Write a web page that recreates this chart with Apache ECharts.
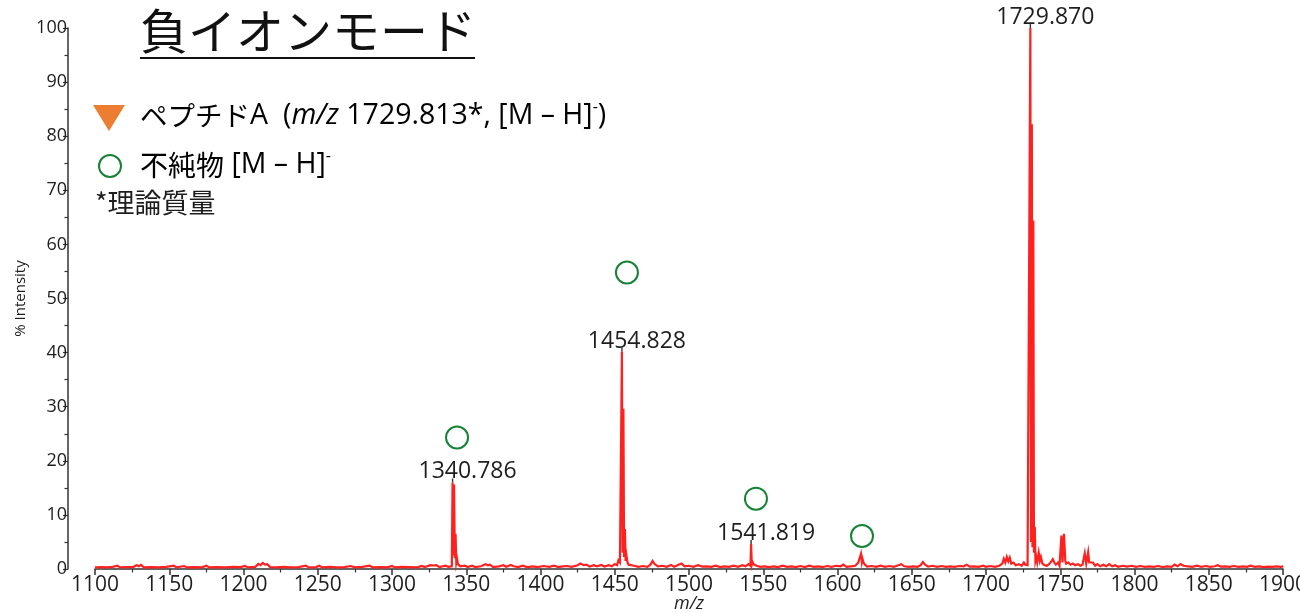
<!DOCTYPE html>
<html>
<head>
<meta charset="utf-8">
<script src="https://cdn.jsdelivr.net/npm/echarts@6/dist/echarts.min.js"></script>
<style>
  html, body { margin: 0; padding: 0; background: #ffffff; }
  #chart { width: 1300px; height: 613px; }
</style>
</head>
<body>
<div id="chart"></div>
<script>
// Negative-ion mass spectrum: [m/z, % intensity]
const spectrum = [
  [1100, 0.3], [1104, 0.35], [1108, 0.3], [1112, 0.4], [1115, 0.6], [1117, 0.3], [1122, 0.35],
  [1126, 0.4], [1128, 0.7], [1129.5, 0.5], [1131, 0.75], [1133, 0.3], [1138, 0.35], [1143, 0.3],
  [1148, 0.4], [1153, 0.6], [1155, 0.3], [1160, 0.55], [1162, 0.3], [1167, 0.35], [1172, 0.3],
  [1175, 0.6], [1177, 0.3], [1182, 0.35], [1188, 0.3], [1193, 0.4], [1198, 0.35], [1201, 0.55],
  [1203, 0.3], [1208, 0.4], [1210, 0.95], [1211.5, 0.7], [1213, 1.1], [1214.5, 0.8], [1216, 0.9],
  [1218, 0.35], [1222, 0.3], [1227, 0.4], [1232, 0.3], [1237, 0.35], [1242, 0.6], [1244, 0.3],
  [1249, 0.35], [1251, 0.6], [1253, 0.3], [1258, 0.4], [1263, 0.3], [1268, 0.35], [1272, 0.55],
  [1275, 0.3], [1280, 0.4], [1285, 0.6], [1287, 0.3], [1292, 0.35], [1297, 0.3], [1300, 0.55],
  [1302, 0.3], [1307, 0.4], [1312, 0.35], [1317, 0.3], [1320, 0.55], [1322, 0.35], [1326, 0.7],
  [1328, 0.65], [1330, 0.7], [1332, 0.35], [1336, 0.6], [1338, 0.4], [1340.3, 0.5],
  [1340.786, 16.0], [1341.3, 2.5], [1341.79, 15.6], [1342.3, 2.0], [1342.79, 6.5], [1343.3, 1.2],
  [1343.8, 1.9], [1344.4, 0.9], [1345.0, 1.2], [1346, 0.5], [1349, 0.6], [1351, 0.35], [1354, 0.6],
  [1356, 0.35], [1360, 0.5], [1363, 0.9], [1364.5, 0.7], [1366, 0.8], [1368, 0.35], [1372, 0.5],
  [1375, 0.7], [1377, 0.4], [1380, 0.75], [1382, 0.5], [1385, 0.35], [1388, 0.6], [1391, 0.35],
  [1395, 0.5], [1398, 0.35], [1402, 0.55], [1406, 0.4], [1409, 0.6], [1412, 0.35], [1415, 0.5],
  [1418, 0.55], [1421, 0.4], [1425, 0.7], [1427, 1.0], [1429, 0.7], [1431, 0.8], [1433, 0.45],
  [1436, 0.7], [1438, 0.5], [1441, 0.75], [1443, 0.45], [1446, 0.7], [1448, 0.5], [1450, 0.9],
  [1451.5, 0.7], [1452.5, 1.6], [1453.5, 1.2], [1454.3, 1.0],
  [1454.828, 40.2], [1455.3, 3.0], [1455.83, 29.6], [1456.3, 2.2], [1456.83, 7.4], [1457.3, 1.5],
  [1457.83, 2.6], [1458.5, 1.3], [1459.3, 0.8], [1460, 0.5], [1463, 0.6], [1466, 0.4], [1469, 0.55],
  [1472, 0.4], [1474, 0.8], [1475.5, 1.5], [1476.5, 1.0], [1477.5, 1.3], [1479, 0.5], [1482, 0.6],
  [1485, 0.4], [1488, 0.75], [1490, 0.4], [1493, 0.8], [1495, 1.0], [1497, 0.5], [1500, 0.6],
  [1503, 0.4], [1506, 0.7], [1509, 0.45], [1512, 0.5], [1515, 0.4], [1518, 0.6], [1521, 0.35],
  [1524, 0.5], [1527, 0.4], [1530, 0.6], [1533, 0.4], [1536, 0.7], [1538, 0.5], [1540, 0.9],
  [1541.4, 0.6], [1541.819, 4.6], [1542.3, 0.8], [1542.82, 1.3], [1543.5, 0.9], [1544.5, 1.2],
  [1545.5, 0.6], [1548, 0.4], [1551, 0.5], [1554, 0.35], [1557, 0.5], [1560, 0.35], [1563, 0.6],
  [1566, 0.4], [1569, 0.5], [1572, 0.35], [1575, 0.55], [1578, 0.35], [1581, 0.6], [1584, 0.4],
  [1587, 0.5], [1590, 0.35], [1593, 0.55], [1596, 0.4], [1599, 0.6], [1602, 0.5], [1604, 0.8],
  [1606, 0.4], [1609, 0.5], [1612, 0.6], [1614, 1.2], [1615.3, 0.9], [1615.8, 2.8], [1616.4, 1.3],
  [1616.8, 1.9], [1617.5, 1.2], [1618.5, 0.8], [1620, 0.45], [1623, 0.55], [1626, 0.4], [1629, 0.6],
  [1632, 0.4], [1635, 0.55], [1638, 0.4], [1641, 0.7], [1643, 0.9], [1645, 0.5], [1648, 0.4],
  [1651, 0.5], [1654, 0.4], [1656, 0.7], [1657.5, 1.3], [1659, 0.8], [1661, 0.45], [1664, 0.6],
  [1667, 0.4], [1670, 0.55], [1673, 0.4], [1676, 0.5], [1679, 0.4], [1682, 0.55], [1685, 0.5],
  [1687, 0.8], [1689, 0.45], [1692, 0.5], [1695, 0.4], [1698, 0.6], [1700, 0.4], [1703, 0.55],
  [1706, 0.4], [1709, 0.6], [1711, 1.0], [1712, 1.9], [1713, 1.2], [1714, 2.2], [1715, 1.4],
  [1716, 2.1], [1717, 1.0], [1718.5, 1.2], [1720, 0.7], [1722, 0.9], [1724, 0.6], [1725.5, 1.2],
  [1726.5, 0.8], [1728, 0.7], [1729.3, 0.8],
  [1729.870, 100], [1730.3, 5.0], [1730.87, 82.2], [1731.3, 4.0], [1731.87, 64.4], [1732.3, 3.0],
  [1732.87, 7.8], [1733.3, 1.5], [1733.87, 2.2], [1734.5, 1.2], [1735.5, 3.0], [1736.3, 1.5],
  [1737, 2.2], [1738, 1.0], [1739.5, 0.7], [1741, 0.6], [1742.5, 0.9], [1744, 1.4], [1745, 1.8],
  [1746, 1.2], [1747, 0.8], [1748.5, 1.2], [1749.5, 0.6], [1750.8, 6.2], [1751.5, 1.2],
  [1752.5, 6.5], [1753.4, 1.5], [1754, 1.0], [1755.5, 1.2], [1757, 0.8], [1758.5, 1.0], [1760, 0.7],
  [1762, 0.9], [1763.5, 0.6], [1765, 0.8], [1766.5, 2.9], [1767.5, 1.0], [1768.8, 3.1],
  [1769.5, 1.2], [1770.5, 0.9], [1772, 1.2], [1773.5, 0.6], [1775, 0.9], [1777, 0.5], [1779, 0.8],
  [1781, 0.5], [1783, 0.9], [1785, 0.5], [1787, 0.7], [1789, 0.4], [1792, 0.6], [1795, 0.45],
  [1798, 0.6], [1801, 0.4], [1804, 0.55], [1807, 0.4], [1810, 0.5], [1813, 0.4], [1816, 0.55],
  [1819, 0.35], [1822, 0.5], [1825, 0.4], [1827, 0.8], [1829, 0.5], [1831, 0.9], [1833, 0.6],
  [1836, 0.5], [1839, 0.4], [1842, 0.6], [1845, 0.4], [1848, 0.55], [1851, 0.4], [1854, 0.5],
  [1856, 0.7], [1858, 0.45], [1861, 0.5], [1864, 0.4], [1867, 0.55], [1870, 0.4], [1873, 0.5],
  [1876, 0.4], [1878, 0.6], [1881, 0.4], [1884, 0.5], [1887, 0.35], [1890, 0.45], [1893, 0.4],
  [1896, 0.5], [1899, 0.35], [1900, 0.6]
];

// Annotated peaks (observed m/z, % intensity)
const labelledPeaks = [[1340.786, 16.0], [1454.828, 40.2], [1541.819, 4.6], [1729.870, 100]];

// Impurity [M – H]- markers placed above their peaks
const impurityMarks = [[1343.8, 24.3], [1458.2, 54.8], [1545.1, 13.0], [1616.5, 6.1]];

// Axis ranges
const mzRange = [1100, 1900];
const mzStep = 50;
const intensityRange = [0, 100];
const intensityStep = 10;

const titleText = '負イオンモード';
const legendPeptide = '{j|ペプチド}{t|A}{p|(}{i|m/z}{t| 1729.813*, [M – H]}{s|-}{t|)}';
const legendImpurity = '{k|不純物}{t| [M – H]}{s|-}';
const footnote = '*理論質量';

const LATIN = "'Open Sans', 'Noto Sans', 'Noto Sans CJK JP', sans-serif";
const CJK = "'Noto Sans CJK JP', 'Open Sans', sans-serif";
const INK = '#1e1e1e';
const RED = '#ff2020';
const GREEN = '#168236';
const ORANGE = '#ed7d31';

const chart = echarts.init(document.getElementById('chart'), null, { renderer: 'canvas' });

const legendRich = {
  j: { fontSize: 27.5, fontFamily: CJK, color: '#111', lineHeight: 34 },
  k: { fontSize: 28, fontFamily: CJK, color: '#111', lineHeight: 34 },
  t: { fontSize: 28.5, fontFamily: LATIN, color: '#111', lineHeight: 34 },
  p: { fontSize: 28.5, fontFamily: LATIN, color: '#111', lineHeight: 34, padding: [0, 0, 0, 15] },
  i: { fontSize: 28.5, fontFamily: LATIN, fontStyle: 'italic', color: '#111', lineHeight: 34 },
  s: { fontSize: 16, fontFamily: LATIN, color: '#111', verticalAlign: 'top', lineHeight: 34, padding: [0, 0, 14, 0] }
};

chart.setOption({
  animation: false,
  backgroundColor: '#ffffff',
  textStyle: { fontFamily: LATIN },
  grid: { left: 95, right: 17, top: 28, bottom: 44, containLabel: false, outerBoundsMode: 'none' },
  xAxis: {
    type: 'value',
    min: mzRange[0], max: mzRange[1], interval: mzStep,
    name: 'm/z', nameLocation: 'middle', nameGap: 26, nameMoveOverlap: false,
    nameTextStyle: { fontSize: 18, fontStyle: 'italic', color: INK, fontFamily: LATIN },
    axisLine: { show: true, lineStyle: { color: '#333', width: 1.5 } },
    axisTick: { show: true, length: 6, lineStyle: { color: '#333', width: 1.5 } },
    minorTick: { show: true, splitNumber: 2, length: 3.5, lineStyle: { color: '#333', width: 1.2 } },
    axisLabel: { fontSize: 21, color: INK, margin: 6, fontFamily: LATIN, formatter: v => String(v) },
    splitLine: { show: false }
  },
  yAxis: {
    type: 'value',
    min: intensityRange[0], max: intensityRange[1], interval: intensityStep,
    offset: 27,
    name: '% Intensity', nameLocation: 'middle', nameGap: 40, nameMoveOverlap: false,
    nameTextStyle: { fontSize: 15, color: INK, fontFamily: LATIN },
    axisLine: { show: true, onZero: false, lineStyle: { color: '#333', width: 1.5 } },
    axisTick: { show: true, length: 5, lineStyle: { color: '#333', width: 1.2 } },
    minorTick: { show: true, splitNumber: 2, length: 3.5, lineStyle: { color: '#333', width: 1.2 } },
    axisLabel: { fontSize: 18, color: INK, margin: 1, fontFamily: LATIN },
    splitLine: { show: false }
  },
  series: [
    {
      name: 'spectrum',
      type: 'line',
      data: spectrum,
      showSymbol: false,
      sampling: 'none',
      clip: false,
      lineStyle: { color: RED, width: 2.2, join: 'miter' },
      itemStyle: { color: RED },
      z: 2
    },
    {
      name: 'peak labels',
      type: 'scatter',
      data: labelledPeaks,
      symbol: 'rect',
      symbolSize: [1.4, 4],
      symbolOffset: [0, -2],
      itemStyle: { color: '#333', opacity: 1 },
      label: {
        show: true,
        position: 'top',
        distance: 0,
        offset: [15, 5],
        fontSize: 23,
        color: INK,
        fontFamily: LATIN,
        formatter: p => p.value[0].toFixed(3)
      },
      z: 4
    },
    {
      name: 'impurity',
      type: 'scatter',
      data: impurityMarks,
      symbol: 'circle',
      symbolSize: 22,
      itemStyle: { color: 'rgba(0,0,0,0)', borderColor: GREEN, borderWidth: 2, opacity: 1 },
      z: 5
    }
  ],
  graphic: [
    {
      type: 'text', left: 140, top: 7,
      style: { text: titleText, fontSize: 48, fontFamily: CJK, fill: '#111' }
    },
    {
      type: 'line', shape: { x1: 140, y1: 58, x2: 475, y2: 58 },
      style: { stroke: '#111', lineWidth: 2 }
    },
    {
      type: 'polygon', shape: { points: [[93, 105], [125, 105], [109, 131]] },
      style: { fill: ORANGE }
    },
    {
      type: 'text', left: 140, top: 99,
      style: { text: legendPeptide, rich: legendRich }
    },
    {
      type: 'circle', shape: { cx: 110, cy: 166, r: 11 },
      style: { fill: 'none', stroke: GREEN, lineWidth: 2 }
    },
    {
      type: 'text', left: 140, top: 148,
      style: { text: legendImpurity, rich: legendRich }
    },
    {
      type: 'text', left: 95, top: 189,
      style: { text: footnote, fontSize: 27, fontFamily: CJK, fill: INK }
    }
  ]
});
</script>
</body>
</html>
